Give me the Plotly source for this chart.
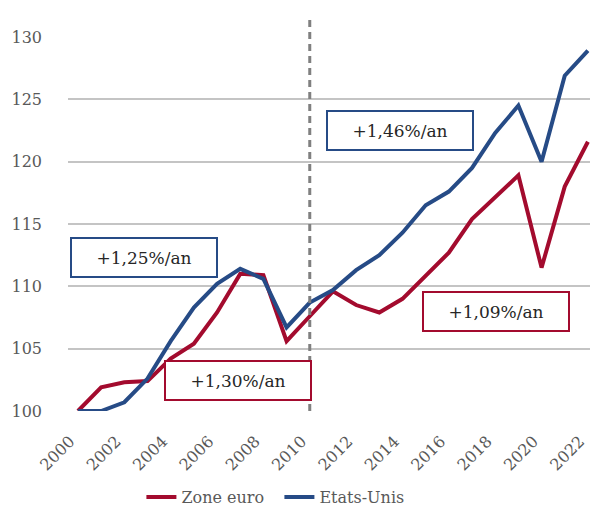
import plotly.graph_objects as go

years = list(range(2000, 2023))
zone_euro = [100.0, 101.9, 102.3, 102.4, 104.2, 105.4, 107.9, 111.0, 110.9, 105.6,
             107.6, 109.6, 108.5, 107.9, 109.0, 110.9, 112.7, 115.4, 117.1, 118.9,
             111.5, 118.0, 121.6]
etats_unis = [100.0, 100.0, 100.7, 102.6, 105.6, 108.3, 110.2, 111.4, 110.6, 106.7,
              108.7, 109.7, 111.3, 112.5, 114.3, 116.5, 117.6, 119.5, 122.3, 124.5,
              120.0, 126.9, 128.9]
tick_years = list(range(2000, 2023, 2))
tick_labels = [str(y) for y in tick_years]
y_ticks = [100, 105, 110, 115, 120, 125, 130]

labels = ["+1,25%/an", "+1,30%/an", "+1,46%/an", "+1,09%/an"]
label_x = [2002.84, 2006.92, 2013.88, 2018.02]
label_y = [112.3, 102.44, 122.52, 107.97]
label_colors = ["#264B86", "#A30B2E", "#264B86", "#A30B2E"]

RED = "#A30B2E"
BLUE = "#264B86"
FONT = "DejaVu Serif"

fig = go.Figure()
fig.add_trace(go.Scatter(x=years, y=zone_euro, mode="lines", name="Zone euro",
                         line=dict(color=RED, width=4)))
fig.add_trace(go.Scatter(x=years, y=etats_unis, mode="lines", name="Etats-Unis",
                         line=dict(color=BLUE, width=4)))

fig.add_shape(type="line", xref="x", yref="paper", x0=2010, x1=2010, y0=0, y1=1.058,
              line=dict(color="#808080", width=3, dash="7px,5px"), layer="above")

for t, x, y, c in zip(labels, label_x, label_y, label_colors):
    fig.add_annotation(x=x, y=y, xref="x", yref="y", text=t, showarrow=False,
                       font=dict(family=FONT, size=17, color="#262626"),
                       bgcolor="white", bordercolor=c, borderwidth=2, borderpad=2,
                       width=140, height=33, align="center", valign="middle")

fig.update_layout(
    width=590, height=506,
    margin=dict(l=68, r=0, t=37, b=95, autoexpand=False),
    plot_bgcolor="white", paper_bgcolor="white",
    font=dict(family=FONT, size=16, color="#595959"),
    showlegend=True,
    legend=dict(orientation="h", x=0.405, xanchor="center", y=-0.23, yanchor="middle",
                font=dict(family=FONT, size=16, color="#595959"),
                itemwidth=30, tracegroupgap=0, entrywidth=93, entrywidthmode="pixels"),
    xaxis=dict(range=[1999.57, 2022.09], tickmode="array", tickvals=tick_years,
               ticktext=tick_labels, tickangle=-45, showgrid=False, zeroline=False,
               showline=False, ticks="", automargin=False, ticklabeloverflow="allow",
               ticklabelstandoff=17, ticklabelshift=-8,
               tickfont=dict(family=FONT, size=16, color="#595959")),
    yaxis=dict(range=[100, 130], tickmode="array", tickvals=y_ticks, showgrid=True,
               gridcolor="#C4C4C4", gridwidth=1.5, zeroline=False, showline=False,
               ticks="", ticklabelstandoff=25, automargin=False,
               tickfont=dict(family=FONT, size=16, color="#595959")),
)

fig.write_html("out.html", config={"displayModeBar": False},
               post_script="document.body.style.margin='0';document.body.style.overflow='hidden';")
